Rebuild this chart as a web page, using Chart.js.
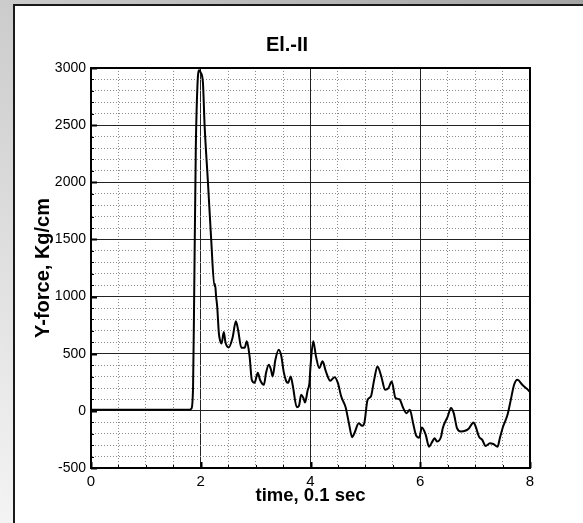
<!DOCTYPE html>
<html>
<head>
<meta charset="utf-8">
<title>El.-II</title>
<script src="https://cdn.jsdelivr.net/npm/chart.js@4.4.1/dist/chart.umd.min.js"></script>
<style>
  html, body { margin: 0; padding: 0; }
  body {
    width: 583px;
    height: 523px;
    overflow: hidden;
    position: relative;
    background: linear-gradient(to top right, #f4f4f4, #a4a4a4);
  }
  #panel {
    position: absolute;
    left: 13px;
    top: 4px;
    right: 0;
    bottom: 0;
    background: #fff;
    border-left: 2px solid #1a1a1a;
    border-top: 2px solid #1a1a1a;
  }
  #wrap { position: absolute; left: 0; top: 0; width: 544px; height: 517px; }
</style>
</head>
<body>
<div id="panel">
  <div id="wrap"><canvas id="forceChart"></canvas></div>
</div>
<script>
// time, 0.1 sec
const timeValues = [
  0.00, 0.70, 1.80, 1.83, 1.86, 1.88, 1.91, 1.94, 1.97, 2.00,
  2.04, 2.07, 2.13, 2.19, 2.25, 2.26, 2.28, 2.30, 2.33, 2.35,
  2.38, 2.42, 2.45, 2.51, 2.58, 2.64, 2.68, 2.74, 2.80, 2.84,
  2.89, 2.93, 2.98, 3.04, 3.08, 3.15, 3.19, 3.24, 3.28, 3.31,
  3.36, 3.42, 3.47, 3.51, 3.56, 3.59, 3.64, 3.68, 3.75, 3.79,
  3.83, 3.87, 3.90, 3.95, 3.98, 4.00, 4.05, 4.10, 4.16, 4.22,
  4.28, 4.36, 4.44, 4.50, 4.56, 4.64, 4.70, 4.76, 4.80, 4.88,
  4.94, 4.98, 5.04, 5.10, 5.16, 5.22, 5.29, 5.36, 5.42, 5.48,
  5.55, 5.62, 5.69, 5.75, 5.81, 5.87, 5.92, 5.98, 6.03, 6.10,
  6.16, 6.22, 6.26, 6.31, 6.38, 6.41, 6.50, 6.56, 6.61, 6.67,
  6.74, 6.83, 6.89, 6.97, 7.01, 7.07, 7.13, 7.19, 7.27, 7.33,
  7.41, 7.45, 7.51, 7.59, 7.65, 7.71, 7.77, 7.86, 7.95, 8.00
]

// Y-force, Kg/cm
const forceValues = [
  10, 10, 10, 20, 210, 1000, 2300, 2850, 2980, 2960,
  2870, 2500, 2010, 1500, 1090, 1110, 1000, 910, 680, 620,
  590, 690, 600, 555, 640, 783, 710, 552, 552, 608,
  476, 272, 245, 333, 272, 228, 333, 403, 360, 301,
  447, 535, 476, 345, 257, 245, 301, 213, 32, 44,
  140, 114, 73, 184, 240, 389, 608, 476, 374, 433,
  345, 263, 295, 243, 125, 32, -108, -231, -196, -108,
  -131, -108, 96, 125, 272, 389, 301, 184, 199, 257,
  111, 102, 24, -20, 9, -108, -210, -235, -145, -210,
  -313, -269, -240, -269, -225, -152, -50, 24, -20, -152,
  -181, -172, -152, -102, -137, -225, -254, -307, -284, -290,
  -313, -240, -137, -35, 96, 228, 272, 228, 190, 165
]

const xMajor = 2
const xMinor = 0.5
const yMajor = 500
const yMinor = 100

const isMajor = (value, step) => Math.abs(value / step - Math.round(value / step)) < 1e-6

// inward tick marks and the closed frame round the plot
const frame = {
  id: 'frame',
  afterDraw(chart) {
    const { ctx, chartArea: a, scales } = chart
    ctx.save()
    ctx.strokeStyle = '#000'
    scales.y.ticks.forEach((t) => {
      const y = Math.round(scales.y.getPixelForValue(t.value)) + 0.5
      const major = isMajor(t.value, yMajor)
      ctx.lineWidth = major ? 2 : 1
      ctx.beginPath()
      ctx.moveTo(a.left, y)
      ctx.lineTo(a.left + (major ? 6 : 3), y)
      ctx.stroke()
    })
    scales.x.ticks.forEach((t) => {
      const x = Math.round(scales.x.getPixelForValue(t.value)) + 0.5
      const major = isMajor(t.value, xMajor)
      ctx.lineWidth = major ? 2 : 1
      ctx.beginPath()
      ctx.moveTo(x, a.bottom)
      ctx.lineTo(x, a.bottom - (major ? 6 : 3))
      ctx.stroke()
    })
    ctx.lineWidth = 2
    ctx.strokeRect(a.left, a.top, a.right - a.left, a.bottom - a.top)
    ctx.restore()
  }
}

const fontFamily = 'Liberation Sans, Arial, sans-serif'

const forceCtx = document.getElementById('forceChart')
const forceChart = new Chart(forceCtx, {
  type: 'line',
  data: {
    datasets: [
      {
        label: 'Y-force',
        data: timeValues.map((t, i) => ({ x: t, y: forceValues[i] })),
        borderColor: '#000',
        borderWidth: 2,
        pointRadius: 0,
        cubicInterpolationMode: 'monotone',
      },
    ],
  },
  options: {
    responsive: true,
    maintainAspectRatio: false,
    animation: false,
    layout: { padding: { left: 29, right: 29, top: 0, bottom: 0 } },
    plugins: {
      legend: { display: false },
      tooltip: { enabled: false },
      title: {
        display: true,
        text: 'El.-II',
        color: '#000',
        font: { family: fontFamily, size: 20, weight: 'bold' },
        padding: { top: 27, bottom: 11 },
      },
    },
    scales: {
      x: {
        type: 'linear',
        min: 0,
        max: 8,
        afterFit: (scale) => { scale.height = 55 },
        ticks: {
          stepSize: xMinor,
          autoSkip: false,
          maxRotation: 0,
          padding: 5,
          color: '#000',
          font: { family: fontFamily, size: 15 },
          callback: (v) => (isMajor(v, xMajor) ? v : ''),
        },
        grid: {
          drawTicks: false,
          color: (c) => (isMajor(c.tick.value, xMajor) ? '#222' : '#8c8c8c'),
          lineWidth: 1,
        },
        border: {
          color: '#000',
          width: 2,
          dash: (c) => (c.tick && isMajor(c.tick.value, xMajor) ? [] : [1, 2]),
        },
        title: {
          display: true,
          text: 'time, 0.1 sec',
          color: '#000',
          font: { family: fontFamily, size: 18.5, weight: 'bold' },
          padding: { top: 0, bottom: 16 },
        },
      },
      y: {
        min: -500,
        max: 3000,
        afterFit: (scale) => { scale.width = 47 },
        ticks: {
          stepSize: yMinor,
          autoSkip: false,
          maxTicksLimit: 100,
          padding: 5,
          color: '#000',
          font: { family: fontFamily, size: 14 },
          callback: (v) => (isMajor(v, yMajor) ? v : ''),
        },
        grid: {
          drawTicks: false,
          color: (c) => (isMajor(c.tick.value, yMajor) ? '#222' : '#8c8c8c'),
          lineWidth: 1,
        },
        border: {
          color: '#000',
          width: 2,
          dash: (c) => (c.tick && isMajor(c.tick.value, yMajor) ? [] : [1, 2]),
        },
        title: {
          display: true,
          text: 'Y-force, Kg/cm',
          color: '#000',
          font: { family: fontFamily, size: 20, weight: 'bold' },
          padding: { top: -13, bottom: 0 },
        },
      },
    },
  },
  plugins: [frame],
})
</script>
</body>
</html>
